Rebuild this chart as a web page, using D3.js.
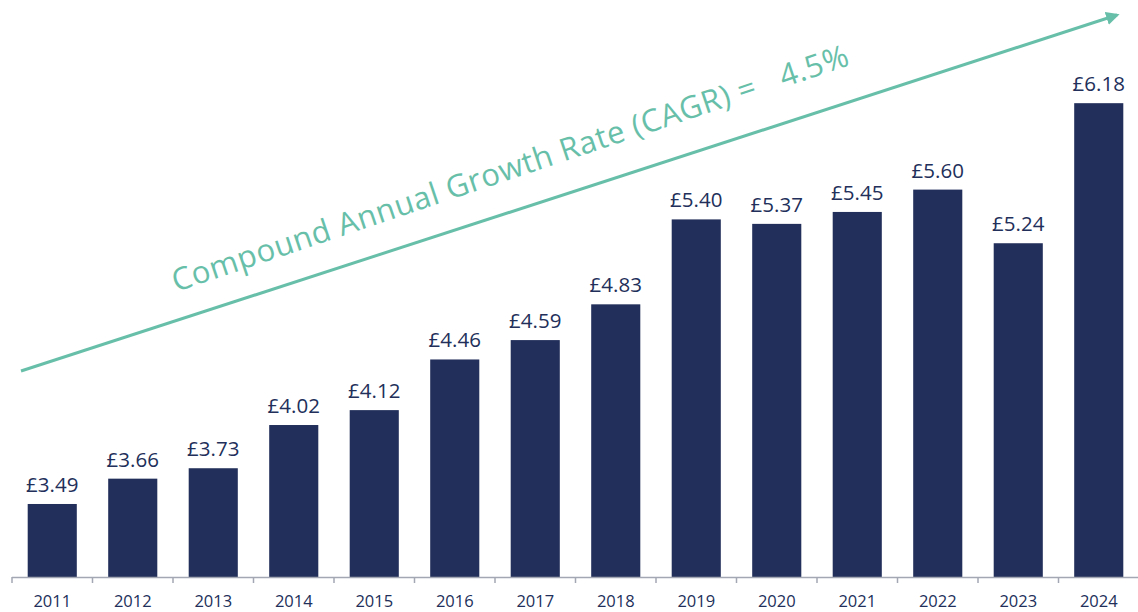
<!DOCTYPE html>
<html><head><meta charset="utf-8">
<script src="https://cdn.jsdelivr.net/npm/d3@7"></script>
<style>body{margin:0;background:#fff;} svg{display:block;}</style>
</head><body>
<svg id="chart" width="1138" height="612"></svg>
<script>
const years = ["2011","2012","2013","2014","2015","2016","2017","2018","2019","2020","2021","2022","2023","2024"];
const values = [3.49,3.66,3.73,4.02,4.12,4.46,4.59,4.83,5.40,5.37,5.45,5.60,5.24,6.18];
const cagrText = "Compound Annual Growth Rate (CAGR) =   4.5%";

const svg = d3.select("#chart");
const barColor = "#222f5a", teal = "#68bfa9", axisColor = "#a3a7b3";
const font = "'Open Sans', sans-serif";

const x = d3.scaleBand().domain(years).range([12, 1139]).paddingInner(0.39).paddingOuter(0.195);
const y = d3.scaleLinear().domain([3, 7]).range([577, -19]);

svg.selectAll("rect.bar").data(values).join("rect")
  .attr("class","bar")
  .attr("x",(d,i)=>x(years[i]))
  .attr("width",x.bandwidth())
  .attr("y",d=>y(d))
  .attr("height",d=>y(3)-y(d))
  .attr("fill",barColor);

svg.selectAll("text.val").data(values).join("text")
  .attr("class","val")
  .attr("x",(d,i)=>x(years[i])+x.bandwidth()/2)
  .attr("y",d=>y(d)-12)
  .attr("text-anchor","middle")
  .attr("font-family",font).attr("font-size",20.5)
  .attr("fill",barColor)
  .text(d=>"£"+d.toFixed(2));

// axis
const step = x.step();
const ax = svg.append("g");
ax.append("line").attr("x1",12).attr("x2",1138).attr("y1",577.5).attr("y2",577.5)
  .attr("stroke",axisColor).attr("stroke-width",1.5);
const bounds = d3.range(years.length+1).map(i=>12+i*step);
ax.selectAll("line.tick").data(bounds).join("line").attr("class","tick")
  .attr("x1",d=>d).attr("x2",d=>d).attr("y1",577).attr("y2",583)
  .attr("stroke",axisColor).attr("stroke-width",1.5);
ax.selectAll("text.yr").data(years).join("text").attr("class","yr")
  .attr("x",d=>x(d)+x.bandwidth()/2).attr("y",607)
  .attr("text-anchor","middle")
  .attr("font-family",font).attr("font-size",16.5)
  .attr("fill",barColor).text(d=>d);

// arrow
const defs = svg.append("defs");
defs.append("marker").attr("id","arr").attr("viewBox","0 0 10 10")
  .attr("refX",8).attr("refY",5).attr("markerWidth",4.5).attr("markerHeight",4.5)
  .attr("orient","auto").attr("markerUnits","strokeWidth")
  .append("path").attr("d","M0,0 L10,5 L0,10 Z").attr("fill",teal);
svg.append("line").attr("x1",21).attr("y1",371).attr("x2",1117).attr("y2",15)
  .attr("stroke",teal).attr("stroke-width",3).attr("marker-end","url(#arr)");

svg.append("text")
  .attr("transform","translate(176,292) rotate(-18.6)")
  .attr("font-family",font).attr("font-size",31)
  .attr("fill",teal)
  .attr("textLength",712).attr("lengthAdjust","spacing")
  .style("white-space","pre")
  .text(cagrText);
</script>
</body></html>
